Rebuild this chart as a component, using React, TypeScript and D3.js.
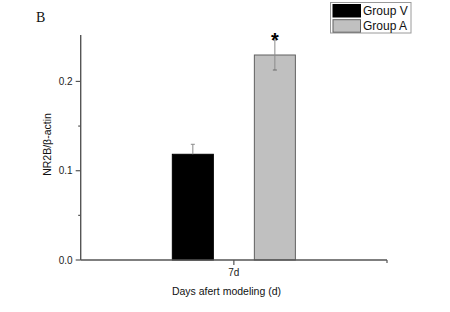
import React from "react";
import * as d3 from "d3";

const categories = ["7d"];
const groups = ["Group V", "Group A"];
const means = [0.1184, 0.2296];
const errors = [0.0112, 0.0168];
const yTicks = [0.0, 0.1, 0.2];
const yMinorTicks = [0.05, 0.15];
const groupColors = ["#000000", "#c0c0c0"];
const groupStrokes = ["#000000", "#606060"];
const significance = ["", "*"];

const W = 450;
const H = 312;
const left = 80.7;
const right = 387;
const top = 35;
const bottom = 260;

export default function App() {
  const y = d3.scaleLinear().domain([0, 0.252]).range([bottom, top]);
  const x0 = d3.scaleBand<string>().domain(categories).range([left, right]).padding(0);
  const x1 = d3
    .scaleBand<string>()
    .domain(groups)
    .range([0, x0.bandwidth()])
    .paddingInner(0.5)
    .paddingOuter(1.117);
  const fmt = d3.format(".1f");
  const axisColor = "#555";
  const font = "'Liberation Sans', Arial, sans-serif";

  return (
    <svg
      width={W}
      height={H}
      style={{ position: "absolute", left: 0, top: 0, background: "#fff" }}
      fontFamily={font}
    >
      <rect x={0} y={0} width={W} height={H} fill="#fff" />
      <text x={36} y={22} fontFamily="'Liberation Serif', 'Times New Roman', serif" fontSize={14} fill="#111">
        B
      </text>

      {/* bars */}
      {categories.map((c) => (
        <g key={c} transform={`translate(${x0(c)},0)`}>
          {groups.map((g, i) => {
            const bx = x1(g)!;
            const bw = x1.bandwidth();
            const cx = bx + bw / 2;
            return (
              <g key={g}>
                <rect
                  x={bx}
                  y={y(means[i])}
                  width={bw}
                  height={bottom - y(means[i])}
                  fill={groupColors[i]}
                  stroke={groupStrokes[i]}
                  strokeWidth={1}
                />
                <line
                  x1={cx}
                  x2={cx}
                  y1={i === 0 ? y(means[i]) : y(means[i] - errors[i])}
                  y2={y(means[i] + errors[i])}
                  stroke="#8a8a8a"
                  strokeWidth={1}
                />
                <line x1={cx - 2} x2={cx + 2} y1={y(means[i] + errors[i])} y2={y(means[i] + errors[i])} stroke="#8a8a8a" strokeWidth={1} />
                {i === 1 && (
                  <line x1={cx - 2} x2={cx + 2} y1={y(means[i] - errors[i])} y2={y(means[i] - errors[i])} stroke="#6a6a6a" strokeWidth={1} />
                )}
                {significance[i] && (
                  <text x={cx} y={y(means[i] + errors[i]) + 7} textAnchor="middle" fontSize={20} fontWeight="bold" fill="#000">
                    {significance[i]}
                  </text>
                )}
              </g>
            );
          })}
        </g>
      ))}

      {/* y axis */}
      <line x1={left} x2={left} y1={top} y2={bottom} stroke={axisColor} strokeWidth={1.4} />
      {yTicks.map((t) => (
        <g key={t}>
          <line x1={left - 5} x2={left} y1={y(t)} y2={y(t)} stroke={axisColor} strokeWidth={1.2} />
          <text x={left - 8} y={y(t) + 3.5} textAnchor="end" fontSize={10} fill="#222">
            {fmt(t)}
          </text>
        </g>
      ))}
      {yMinorTicks.map((t) => (
        <line key={t} x1={left - 2.5} x2={left} y1={y(t)} y2={y(t)} stroke={axisColor} strokeWidth={1.2} />
      ))}
      <text
        transform={`translate(51,${(top + bottom) / 2 - 3}) rotate(-90)`}
        textAnchor="middle"
        fontSize={10.5}
        fill="#111"
      >
        NR2B/β-actin
      </text>

      {/* x axis */}
      <line x1={left} x2={right} y1={bottom} y2={bottom} stroke={axisColor} strokeWidth={1.4} />
      <line x1={right} x2={right} y1={bottom} y2={bottom + 3} stroke={axisColor} strokeWidth={1.2} />
      {categories.map((c) => {
        const cx = x0(c)! + x0.bandwidth() / 2;
        return (
          <g key={c}>
            <line x1={cx} x2={cx} y1={bottom} y2={bottom + 5} stroke={axisColor} strokeWidth={1.2} />
            <text x={cx} y={bottom + 16} textAnchor="middle" fontSize={10} fill="#222">
              {c}
            </text>
          </g>
        );
      })}
      <text x={226.5} y={295} textAnchor="middle" fontSize={10.5} fill="#111">
        Days afert modeling (d)
      </text>

      {/* legend */}
      <rect x={330.5} y={2.5} width={80.5} height={30.5} fill="#fff" stroke="#9a9a9a" strokeWidth={1} />
      {groups.map((g, i) => (
        <g key={g} transform={`translate(0,${i * 15.2})`}>
          <rect x={333} y={4.5} width={27.5} height={12.5} fill={groupColors[i]} stroke={i === 0 ? "#000" : "#606060"} strokeWidth={1} />
          <text x={363} y={14.5} fontSize={12} fill="#111">
            {g}
          </text>
        </g>
      ))}
    </svg>
  );
}
